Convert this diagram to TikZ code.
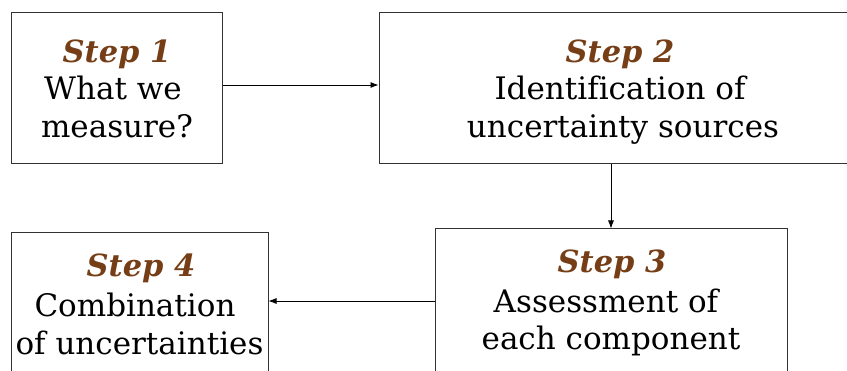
\documentclass[tikz,border=0pt]{standalone}
\usepackage{fontspec}
\setmainfont[Ligatures={NoCommon}]{DejaVu Serif}
\usetikzlibrary{arrows.meta}
\definecolor{stepbrown}{RGB}{117,62,22}
\definecolor{edge}{RGB}{50,50,50}
\tikzset{
  stepbox/.style={draw=edge, line width=1pt, rectangle, inner sep=0pt},
  title/.style={anchor=base, font=\fontsize{30.5}{36}\selectfont\bfseries\itshape, text=stepbrown, inner sep=0pt},
  body/.style={anchor=base, font=\fontsize{31}{36}\selectfont, text=black, inner sep=0pt},
  arr/.style={draw=black, line width=0.8pt, -{Latex[length=8pt,width=6pt]}}
}
\begin{document}
\begin{tikzpicture}[x=1pt,y=-1pt]
  \clip (0,0) rectangle (847,371);
  \fill[white] (0,0) rectangle (847,371);

  % boxes
  \node[stepbox, minimum width=211pt, minimum height=151pt] (box1) at (116.5,88.5) {};
  \node[stepbox, minimum width=491pt, minimum height=151pt] (box2) at (624.5,88.5) {};
  \node[stepbox, minimum width=352pt, minimum height=170pt] (box3) at (611,314) {};
  \node[stepbox, minimum width=257pt, minimum height=167pt] (box4) at (139.5,316.5) {};

  % step 1
  \node[title] (t1) at (117,63) {Step 1};
  \node[body] (l1a) at (113,100) {What we};
  \node[body] (l1b) at (117,138) {measure?};
  % step 2
  \node[title] (t2) at (620,63) {Step 2};
  \node[body] (l2a) at (620,100) {Identification of};
  \node[body] (l2b) at (623,138) {uncertainty sources};
  % step 3
  \node[title] (t3) at (612,273) {Step 3};
  \node[body] (l3a) at (606,313) {Assessment of};
  \node[body] (l3b) at (611,350) {each component};
  % step 4
  \node[title] (t4) at (141,277) {Step 4};
  \node[body] (l4a) at (135,317) {Combination};
  \node[body] (l4b) at (139.5,355) {of uncertainties};

  % connectors
  \draw[arr] ([yshift=3.5pt]box1.east) -- ([yshift=3.5pt]box1.east -| box2.west);
  \draw[arr] (box2.south -| box3.north) -- (box3.north);
  \coordinate (c3) at ([yshift=13pt]box3.west);
  \draw[arr] (c3) -- (c3 -| box4.east);
\end{tikzpicture}
\end{document}
